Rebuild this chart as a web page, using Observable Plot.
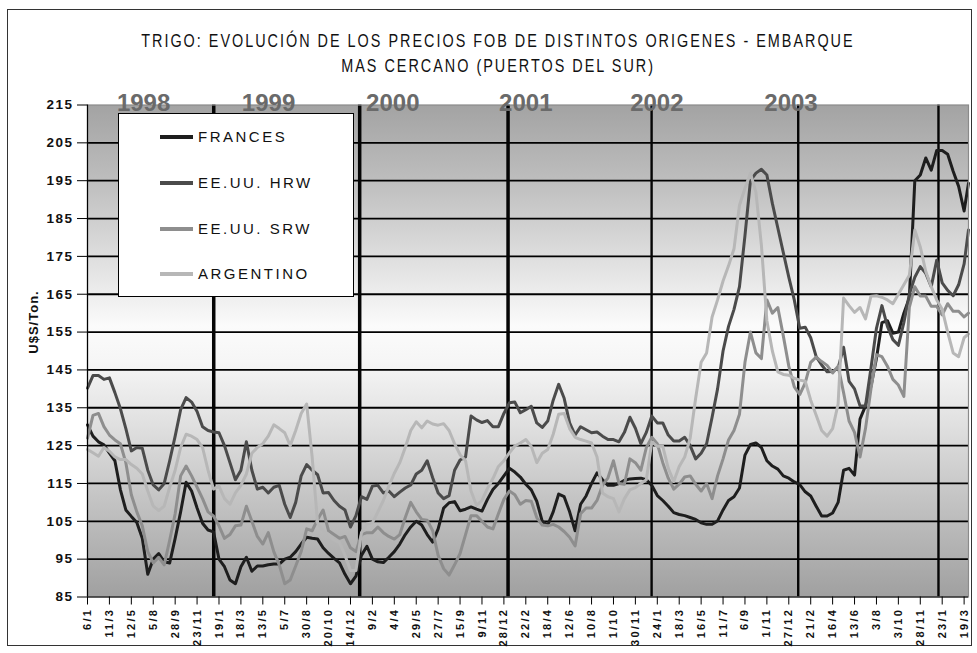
<!DOCTYPE html>
<html><head><meta charset="utf-8">
<script src="https://cdn.jsdelivr.net/npm/d3@7"></script>
<script src="https://cdn.jsdelivr.net/npm/@observablehq/plot@0.6"></script>
<style>
body{margin:0;background:#fff;}
#wrap{position:relative;width:977px;height:653px;overflow:hidden;font-family:"Liberation Sans",Arial,sans-serif;color:#111;}
#border{position:absolute;left:7px;top:9px;width:965px;height:637px;border:1px solid #333;box-sizing:border-box;}
.title{position:absolute;left:0;width:996px;text-align:center;font-size:18px;line-height:18px;white-space:nowrap;}
.title span{display:inline-block;transform:scaleX(0.8);letter-spacing:2.5px;}
#chart{position:absolute;left:0;top:80px;}
#ylab{position:absolute;left:33px;top:322px;transform:translate(-50%,-50%) rotate(-90deg);font-size:13px;font-weight:bold;letter-spacing:1px;white-space:nowrap;}
#legend{position:absolute;left:118px;top:113px;width:236px;height:184px;box-sizing:border-box;border:1.5px solid #000;background:#fff;}
.item{position:absolute;left:0;width:230px;height:20px;}
.swatch{position:absolute;left:41px;top:8px;width:33px;height:4px;}
.ltext{position:absolute;left:79px;top:0;font-size:15px;line-height:20px;letter-spacing:2.5px;white-space:nowrap;}
</style></head>
<body>
<div id="wrap">
  <div id="border"></div>
  <div class="title" style="top:32px"><span>TRIGO: EVOLUCIÓN DE LOS PRECIOS FOB DE DISTINTOS ORIGENES - EMBARQUE</span></div>
  <div class="title" style="top:57px"><span>MAS CERCANO (PUERTOS DEL SUR)</span></div>
  <div id="chart"></div>
  <div id="ylab">U$S/Ton.</div>
  <div id="legend"></div>
</div>
<script>
// Category tick labels (one every 40 quotes)
const xLabels = ["6/1","11/3","12/5","5/8","28/9","23/11","19/1","18/3","13/5","5/7","30/8","20/10","14/12",
  "9/2","4/4","29/5","27/7","15/9","9/11","28/12","22/2","18/4","12/6","10/8","1/10","30/11",
  "24/1","18/3","16/5","11/7","6/9","1/11","27/12","21/2","16/4","13/6","3/8","3/10","28/11","23/1","19/3"];

// Sample positions along the category axis (tick units, 4 samples per tick interval)
const idx = d3.range(0, 40.001, 0.25).concat([40.2]);

const frances = [
  130.5,127.5,126,125.2,123,121,113.4,108,106.3,104.7,100.5,91,95,96.5,94.3,94,100.5,107.5,115.3,113,
  108.5,104.5,102.7,102.2,95,93,89.5,88.5,93,95.5,91.8,93.2,93.2,93.5,93.7,93.7,95,95.5,97,99,100.8,
  100.5,100.3,98,96.5,95.2,94,91,88.5,90.5,96,98.4,95,94.3,94.1,95.5,97,99,101.5,103.5,105,
  104,101.5,99.5,103,108.5,109.9,110.2,107.8,108.2,108.8,108.2,107.7,110.8,113.4,115,117,119,118,116.7,114.8,
  113.3,110.3,105,104,107.5,112.2,111.5,107.5,102.5,109.5,111.7,115,117.8,116,114.5,114.5,115,115.8,116.2,116.3,
  116.4,116,114.5,111.8,110.5,109,107.3,106.8,106.5,106,105.5,104.6,104.2,104.2,105.1,108,110.5,111.5,113.8,122.5,
  125.3,125.7,124.5,121,119.6,118.8,117,116.4,115.4,114.7,112.8,111.7,109,106.4,106.4,107.2,110,118.5,119,117.2,
  132,135.5,140.7,148,157.5,158,154.7,155,160,164,195,196.5,201,197.8,203,203,202,197.5,193.5,187,
  194.3];
const hrw = [
  140.2,143.5,143.5,142.5,142.9,139,134.8,129.5,123.6,124.5,124.3,118.5,114.6,113.3,115,121,127.5,134.5,137.7,136.5,
  134,130,129,128.6,128.4,125,120.5,116,118.5,126,118.5,113.5,114,112.5,114,114.5,109.5,106,110,117,120,
  118.5,117.3,112.5,112.6,110.5,109,108,103.5,106.5,111.5,110.8,114.3,114.5,112.5,113,111.5,112.7,113.8,114.6,117.5,
  118.5,121,116.5,112.5,111,111.8,118.5,121.2,122,132.8,131.8,131.1,131.6,130,130,133.5,136.3,136.5,133.7,134.5,
  135.4,131,129.8,131.5,137,141.2,137.5,131,127.8,130,129.2,128.4,128.6,127.5,126.6,126.6,126,128.5,132.5,129.6,
  125.5,128.5,132.8,131,131,127.8,126.2,126.2,127.2,125,121.5,123,125.5,132.5,140,150,156.5,161,167,180.5,
  195,197,198,196.5,189,182.5,176,169.5,163.5,156,156.3,153.5,148.5,146.3,144.5,144.6,145.5,151,142,140,
  135.5,135.5,145.5,156,162,156.5,153,151.5,157.5,165,169.5,172.3,170.5,167,174,168,166,164.6,167.5,173,
  182];
const srw = [
  127,133,133.5,130,127.8,126.5,125.5,120.5,112,107.5,103.8,97,94,95.5,93.5,100,107,117,119.6,117,
  114,111,107.5,106.4,103.8,100.5,101.5,103.8,104,109,105,101,99,102,97,93.5,88.5,89.5,93.2,97,103,
  102.5,105.5,108,102.5,101.5,100.5,101,98,97,101.5,102,102,103.5,102,101,100.3,101.5,106,110,107.5,
  105.5,105.3,102.5,96,92.5,90.8,93.5,96.5,101.5,106.5,106.5,105,103.5,103,107,110.8,113,112,109.5,110.5,
  110.3,106,104,103.8,104.2,103.5,102.3,100.8,98.5,107,108.5,108.5,110.5,114.5,116.5,121,115,114.8,121.5,120.5,
  118.5,124.5,127.2,125.5,120.5,116.4,113.5,114.8,116.7,117,114.8,113,115,111,117,121.5,126.5,129,133.3,147,
  155,149.5,148,163.5,160,161.5,154,146,140.5,138.5,141.6,147,148.4,147.2,146.2,144.2,146,139,131.5,128.5,
  122,129.5,140,149,148.5,146,142.5,141,138,161.5,167,164.5,164.5,161.8,161.8,159.5,162.5,160.5,160.5,159,
  160];
const argentino = [
  124,123.1,122.2,124.5,123.5,122,121.3,121.3,120,119,117.5,113,109,107.8,109,114,118.5,124.5,128,127.5,
  126.6,124.5,118.5,113.5,114.3,111,109.5,112.5,114.5,117.5,123,124.5,125.5,127.5,130.5,129.5,128.4,125,129,133.5,136,
  122,104.5,102.5,101.5,100,99.4,96,92,92,102,104.3,104.6,107.5,110.5,114.3,117.7,120.5,124.5,129,131.3,
  129.7,131.5,130.7,130.4,130.8,129,125.5,122.6,121,113,109.2,110.5,113.7,116.3,119.5,121,123.1,124.9,125.7,126.6,
  124.8,120.5,123,124,128,133.3,133.5,129.5,127.2,126.6,126.2,125.7,122,112.5,111.5,111,107.5,111,113.3,113.9,
  115,116,126,124.8,124.8,119,115.5,119.5,122,127,137.5,147,149.5,159,163.5,168.5,172.5,177,188.5,193,
  197,192,178,158,150,144.5,143.8,143.6,142.8,142.3,142,137,133,129,127.5,129.5,136,164,162,160.2,
  161.5,158.5,164.5,164.6,164.2,163.5,162.5,165,167.5,170,182,177.5,171,167,163.5,161,155,149.5,148.5,153.5,
  154.5];

const seriesNames = ["FRANCES","EE.UU. HRW","EE.UU. SRW","ARGENTINO"];
const seriesColors = ["#1e1e1e","#4b4b4b","#8e8e8e","#b7b7b7"];
const seriesValues = [frances, hrw, srw, argentino];

// Year separators (position on category axis) and year captions
const yearLinePos = [5.76, 12.42, 19.19, 25.74, 32.43, 38.83];
const yearLineWidth = [3.5, 3.5, 3.5, 2.4, 2.4, 2.4];
const yearNames = ["1998","1999","2000","2001","2002","2003"];
const yearNamePos = [2.56, 8.26, 13.93, 20.0, 25.98, 32.1];

const yTicks = d3.range(85, 216, 10);

const rows = seriesNames.map((name, j) => seriesValues[j].map((v, i) => ({k: idx[i], v, s: name})));
const yearLines = yearLinePos.map((k, i) => ({k, w: yearLineWidth[i]}));
const yearCaps = yearNames.map((t, i) => ({t, k: yearNamePos[i]}));

const svg = Plot.plot({
  width: 977,
  height: 573,
  marginLeft: 87,
  marginRight: 9,
  marginTop: 24.5,
  marginBottom: 56.5,
  style: {fontFamily: "'Liberation Sans', Arial, sans-serif", background: "transparent", color: "#111"},
  x: {domain: [0, 40.2]},
  y: {domain: [85, 215]},
  marks: [
    Plot.frame({fill: "url(#bg)", stroke: "none"}),
    Plot.gridY(d3.range(95, 215, 10), {stroke: "#000", strokeOpacity: 1, strokeWidth: 1.8}),
    Plot.ruleX(yearLines, {x: "k", strokeWidth: "w", stroke: "#050505"}),
    ...seriesNames.map((name, j) => Plot.line(rows[j], {x: "k", y: "v", stroke: seriesColors[j], strokeWidth: 3, strokeLinejoin: "round"})),
    Plot.frame({stroke: "#8a8a8a", strokeWidth: 1.2}),
    Plot.ruleX([0], {stroke: "#000", strokeWidth: 1.2}),
    Plot.ruleY([85], {stroke: "#000", strokeWidth: 1.2}),
    Plot.axisY(yTicks, {tickSize: 10, tickPadding: 4, fontSize: 13.5, fontWeight: "bold", label: null, stroke: "#000"}),
    Plot.axisX(d3.range(41), {tickFormat: i => xLabels[i], tickRotate: -90, tickSize: 8, tickPadding: 3, fontSize: 11, fontWeight: "bold", label: null, stroke: "#000"}),
    Plot.text(yearCaps, {x: "k", text: "t", frameAnchor: "top", dy: 6, lineAnchor: "bottom", fontSize: 24, fontWeight: "bold", fill: "#6a6a6a"})
  ]
});

const ns = "http://www.w3.org/2000/svg";
const defs = document.createElementNS(ns, "defs");
defs.innerHTML = `<linearGradient id="bg" x1="0" y1="0" x2="0" y2="1">
  <stop offset="0" stop-color="#a3a3a3"/>
  <stop offset="0.15" stop-color="#bdbdbd"/>
  <stop offset="0.3" stop-color="#dcdcdc"/>
  <stop offset="0.45" stop-color="#fbfbfb"/>
  <stop offset="0.52" stop-color="#f6f6f6"/>
  <stop offset="0.65" stop-color="#e0e0e0"/>
  <stop offset="0.8" stop-color="#c4c4c4"/>
  <stop offset="1" stop-color="#a0a0a0"/>
</linearGradient>`;
svg.insertBefore(defs, svg.firstChild);
const st = document.createElementNS(ns, "style");
st.textContent = `g[aria-label="x-axis tick label"] text{letter-spacing:2.2px}
g[aria-label="y-axis tick label"] text{letter-spacing:1.5px}`;
svg.appendChild(st);
document.getElementById("chart").appendChild(svg);

// Legend
const legend = document.getElementById("legend");
const rowCenters = [24, 70, 116, 161];
seriesNames.forEach((name, j) => {
  const it = document.createElement("div");
  it.className = "item";
  it.style.top = (rowCenters[j] - 11.5) + "px";
  it.innerHTML = `<div class="swatch" style="background:${seriesColors[j]}"></div><div class="ltext">${name}</div>`;
  legend.appendChild(it);
});
</script>
</body></html>
